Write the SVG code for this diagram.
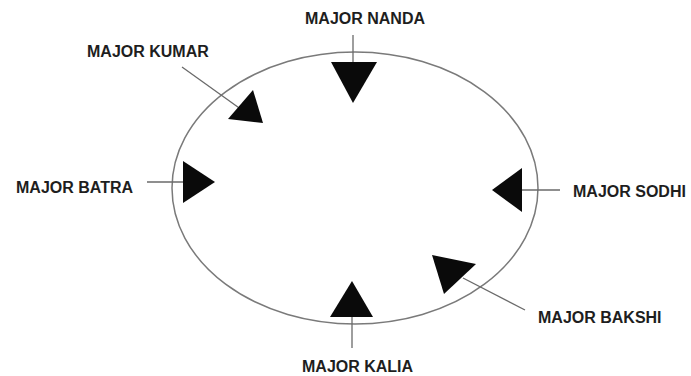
<svg xmlns="http://www.w3.org/2000/svg" width="691" height="376" viewBox="0 0 691 376">
<style>
.lbl{font-family:"Liberation Sans",Arial,sans-serif;font-weight:bold;font-size:16px;fill:#1e1e1e}
.ln{stroke:#6a6a6a;stroke-width:1.3;fill:none}
.tri{fill:#0a0a0a}
</style>
<rect width="691" height="376" fill="#ffffff"/>
<ellipse id="ring" cx="355" cy="188" rx="183" ry="136" fill="none" stroke="#7a7a7a" stroke-width="1.5"/>
<g id="connectors">
<line class="ln" x1="353" y1="35" x2="353" y2="62"/>
<line class="ln" x1="182" y1="67" x2="242" y2="110"/>
<line class="ln" x1="147" y1="182" x2="183" y2="182"/>
<line class="ln" x1="520" y1="190" x2="560" y2="190"/>
<line class="ln" x1="463" y1="278" x2="525" y2="310"/>
<line class="ln" x1="352" y1="317" x2="352" y2="348"/>
</g>
<g id="nanda"><polygon class="tri" points="331,62 377,62 353,103"/><text class="lbl" x="305" y="24">MAJOR NANDA</text></g>
<g id="kumar"><polygon class="tri" points="253,90 228,119 263,123"/><text class="lbl" x="87" y="57">MAJOR KUMAR</text></g>
<g id="batra"><polygon class="tri" points="183,161 183,203 215,182"/><text class="lbl" x="16" y="193">MAJOR BATRA</text></g>
<g id="sodhi"><polygon class="tri" points="522,168 522,212 492,190"/><text class="lbl" x="573" y="197">MAJOR SODHI</text></g>
<g id="bakshi"><polygon class="tri" points="432,255 476,264 444,294"/><text class="lbl" x="538" y="323">MAJOR BAKSHI</text></g>
<g id="kalia"><polygon class="tri" points="352,281 330,317 373,317"/><text class="lbl" x="302" y="372">MAJOR KALIA</text></g>
</svg>
